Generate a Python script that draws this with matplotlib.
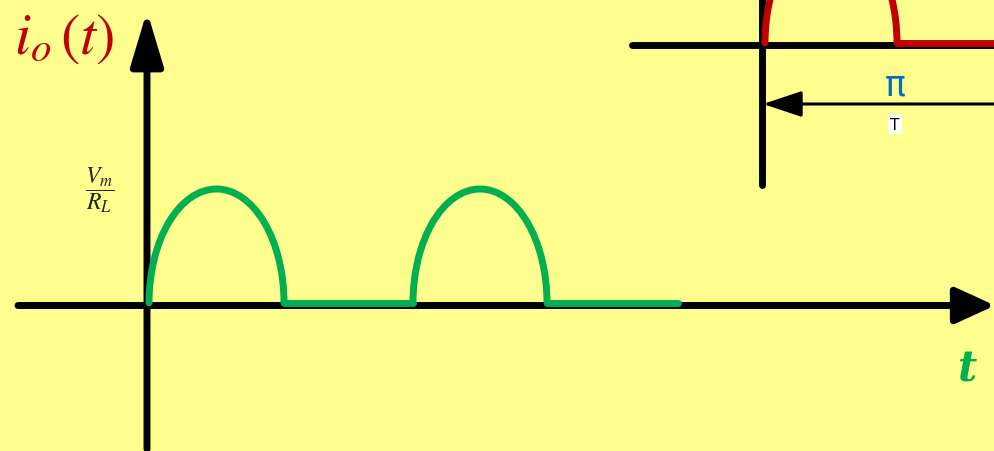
import matplotlib.pyplot as plt
from matplotlib.patches import Arc

plt.rcParams['mathtext.fontset'] = 'stix'

# green output current pulses (pixel-like coords, y up)
arc_start = [149, 413]
arc_end = [284, 547]
arc_peak = 114
base_y = 148
flat_start = [284, 547]
flat_end = [413, 678]

# red input in top-right inset
red_arc_start = 765
red_arc_end = 897
red_base = 408
red_flat_end = 1000

bg = '#FFFF8F'
green = '#00B050'
red = '#C00000'
blue = '#0070C0'

fig = plt.figure(figsize=(9.95, 4.52), dpi=100)
fig.patch.set_facecolor(bg)
ax = fig.add_axes([0, 0, 1, 1])
ax.set_facecolor(bg)
ax.set_xlim(0, 995)
ax.set_ylim(0, 452)
ax.axis('off')

# main axes
ax.annotate('', xy=(995, 145.5), xytext=(18, 145.5),
            arrowprops=dict(arrowstyle='-|>,head_length=1.2,head_width=0.55',
                            lw=5, color='black', mutation_scale=20, shrinkA=0, shrinkB=0,
                            capstyle='round'))
ax.annotate('', xy=(147, 440), xytext=(147, 2),
            arrowprops=dict(arrowstyle='-|>,head_length=1.5,head_width=0.45',
                            lw=5, color='black', mutation_scale=22, shrinkA=0, shrinkB=0))

# green pulses
for s, e in zip(arc_start, arc_end):
    ax.add_patch(Arc(((s + e) / 2, base_y), e - s, 2 * arc_peak, theta1=0, theta2=180,
                     color=green, lw=5, capstyle='round', zorder=3))
for s, e in zip(flat_start, flat_end):
    ax.plot([s, e], [base_y, base_y], color=green, lw=5, solid_capstyle='round', zorder=3)

# inset
ax.plot([632, 1000], [406, 406], color='black', lw=5, solid_capstyle='round')
ax.plot([762, 762], [266, 460], color='black', lw=5, solid_capstyle='round')
ax.add_patch(Arc(((red_arc_start + red_arc_end) / 2, red_base), red_arc_end - red_arc_start,
                 2 * arc_peak, theta1=0, theta2=180, color=red, lw=5, capstyle='round',
                 zorder=3))
ax.plot([red_arc_end, red_flat_end], [red_base, red_base], color=red, lw=5,
        solid_capstyle='round', zorder=3)
ax.annotate('', xy=(763, 347), xytext=(1000, 347),
            arrowprops=dict(arrowstyle='-|>,head_length=1.2,head_width=0.4',
                            lw=2.2, color='black', mutation_scale=20, shrinkA=0, shrinkB=0))
ax.text(895, 367, 'π', color=blue, fontsize=25, ha='center', va='center')
ax.text(895, 327, 'T', color='black', fontsize=11, ha='center', va='center',
        bbox=dict(facecolor='white', edgecolor='none', pad=1.5))

# labels
ax.text(14, 414, r'$i_o\,(t)$', color=red, fontsize=42, ha='left', va='center')
ax.text(100, 262, r'$\dfrac{V_m}{R_L}$', color='#222222', fontsize=17, ha='center',
        va='center')
ax.text(968, 82, 't', color=green, fontsize=30, fontweight='bold', fontstyle='italic',
        family='DejaVu Serif', ha='center', va='center')

fig.savefig('out.png', dpi=100, facecolor=bg)
